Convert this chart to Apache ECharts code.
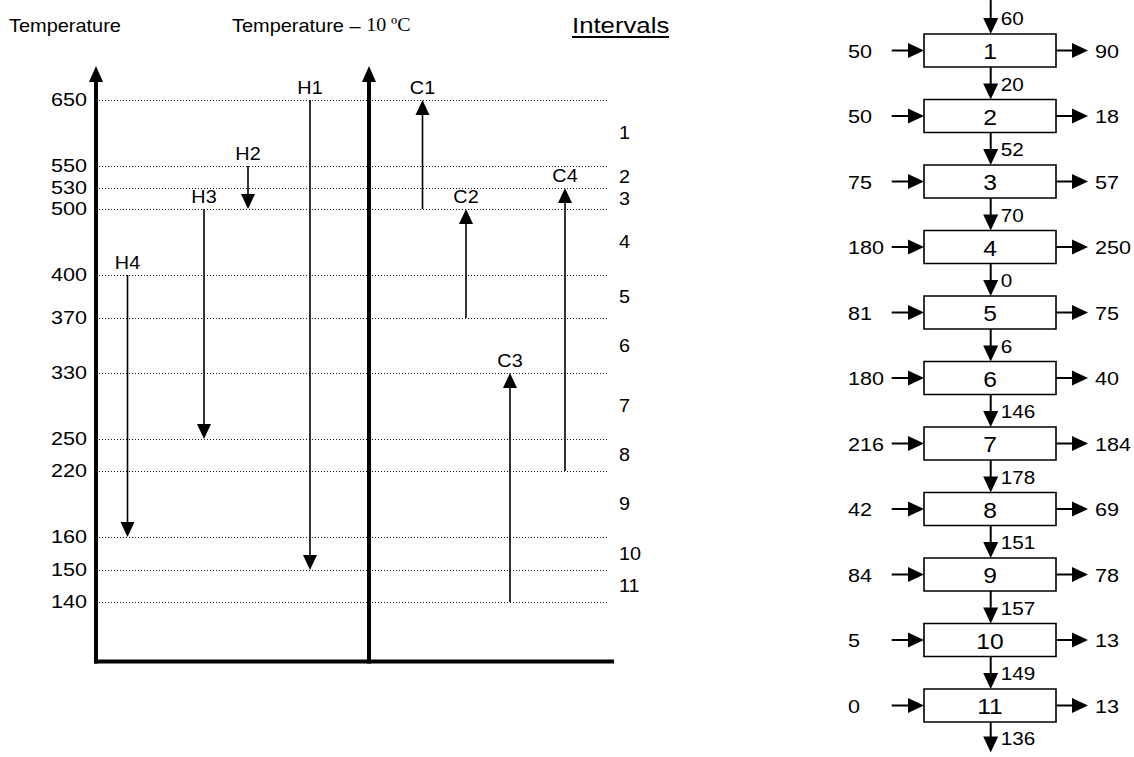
<!DOCTYPE html>
<html><head><meta charset="utf-8">
<script src="https://cdn.jsdelivr.net/npm/echarts@6/dist/echarts.min.js"></script>
<style>html,body{margin:0;padding:0;background:#fff}#c{width:1134px;height:757px}</style>
</head><body><div id="c"></div>
<script>
// ---------------- data ----------------
const levels = [650, 550, 530, 500, 400, 370, 330, 250, 220, 160, 150, 140];
const intervalLabels = ['1','2','3','4','5','6','7','8','9','10','11'];
const hotNames = ['H1','H2','H3','H4'];
const hotSupply = [650, 550, 500, 400];
const hotTarget = [150, 500, 250, 160];
const coldNames = ['C1','C2','C3','C4'];
const coldSupply = [500, 370, 140, 220];   // shifted temperatures (T - 10)
const coldTarget = [650, 500, 330, 530];
const cascadeHeat = [60, 20, 52, 70, 0, 6, 146, 178, 151, 157, 149, 136];
const heatIn = [50, 50, 75, 180, 81, 180, 216, 42, 84, 5, 0];
const heatOut = [90, 18, 57, 250, 75, 40, 184, 69, 78, 13, 13];

// ---------------- schematic layout ----------------
const levelDepth = [0, 66, 88, 109, 175, 218, 273, 339, 371, 437, 470, 502];
const hotColumn = [214, 152, 108, 31.5];
const coldColumn = [326.5, 370, 414, 469];
const midAxisColumn = 273;

const FONT = '"Liberation Sans", Arial, sans-serif';
const depthOf = t => levelDepth[levels.indexOf(t)];

function arrow(x1, y1, x2, y2, lw, hw, hl) {
  const dx = x2 - x1, dy = y2 - y1, L = Math.hypot(dx, dy) || 1, ux = dx / L, uy = dy / L;
  const bx = x2 - ux * hl, by = y2 - uy * hl;
  return [
    {type: 'line', shape: {x1: x1, y1: y1, x2: bx + ux, y2: by + uy}, style: {stroke: '#000', lineWidth: lw}},
    {type: 'polygon', shape: {points: [[x2, y2], [bx - uy * hw / 2, by + ux * hw / 2], [bx + uy * hw / 2, by - ux * hw / 2]]}, style: {fill: '#000'}}
  ];
}
function txt(x, y, s, size, align, valign, sx) {
  return {type: 'text', x: x, y: y, scaleX: sx || 1,
    style: {text: s, fill: '#000', font: size + 'px ' + FONT, align: align || 'left', verticalAlign: valign || 'middle'}};
}

const streams = [];
hotNames.forEach((n, i) => streams.push([hotColumn[i], depthOf(hotSupply[i]), depthOf(hotTarget[i]), n]));
coldNames.forEach((n, i) => streams.push([coldColumn[i], depthOf(coldSupply[i]), depthOf(coldTarget[i]), n]));

const chart = echarts.init(document.getElementById('c'), null, {renderer: 'svg'});
chart.setOption({
  animation: false,
  backgroundColor: '#fff',
  grid: [
    {left: 96, top: 66, width: 518, height: 595.5},
    {left: 820, top: 17.75, width: 314, height: 720.5}
  ],
  xAxis: [
    {type: 'value', gridIndex: 0, min: 0, max: 518, show: false},
    {type: 'value', gridIndex: 1, min: 0, max: 314, show: false}
  ],
  yAxis: [
    {type: 'value', gridIndex: 0, min: -34, max: 561.5, inverse: true, show: false},
    {type: 'category', gridIndex: 1, data: intervalLabels, inverse: true, show: false}
  ],
  graphic: [
    txt(9, 25, 'Temperature', 19, 'left', 'middle', 1.05),
    {type: 'text', x: 232, y: 25, scaleX: 1.05, style: {
      rich: {a: {font: '19px ' + FONT, fill: '#000'}, b: {font: '19px "Liberation Serif", "Times New Roman", serif', fill: '#000'}},
      text: '{a|Temperature – }{b|10 ºC}', verticalAlign: 'middle'}},
    txt(572, 25, 'Intervals', 22, 'left', 'middle', 1.17),
    {type: 'line', shape: {x1: 572, y1: 37, x2: 669, y2: 37}, style: {stroke: '#000', lineWidth: 2}}
  ],
  series: [
    { // temperature levels
      type: 'custom', xAxisIndex: 0, yAxisIndex: 0, silent: true,
      data: levels.map((t, i) => [0, levelDepth[i], t]),
      renderItem: (params, api) => {
        const a = api.coord([3, api.value(1)]), b = api.coord([512, api.value(1)]);
        const l = api.coord([-9, api.value(1)]);
        const y = Math.round(a[1]) + 0.5;
        return {type: 'group', children: [
          {type: 'line', shape: {x1: a[0], y1: y, x2: b[0], y2: y}, style: {stroke: '#111', lineWidth: 1, lineDash: [1, 2]}},
          txt(l[0], l[1], String(api.value(2)), 18, 'right', 'middle', 1.2)
        ]};
      }
    },
    { // interval numbers
      type: 'custom', xAxisIndex: 0, yAxisIndex: 0, silent: true,
      data: intervalLabels.map((s, i) => [523, (levelDepth[i] + levelDepth[i + 1]) / 2, s]),
      renderItem: (params, api) => {
        const p = api.coord([api.value(0), api.value(1)]);
        return txt(p[0], p[1], String(api.value(2)), 18, 'left', 'middle', 1.1);
      }
    },
    { // axes
      type: 'custom', xAxisIndex: 0, yAxisIndex: 0, silent: true,
      data: [[0, 561.5]],
      renderItem: (params, api) => {
        const o = api.coord([0, 561.5]), top = api.coord([0, -34]);
        const m = api.coord([midAxisColumn, 561.5]), mt = api.coord([midAxisColumn, -34]);
        const r = api.coord([518, 561.5]);
        return {type: 'group', children: [
          ...arrow(o[0], o[1] + 2, top[0], top[1], 4, 14, 16),
          ...arrow(m[0], m[1] + 2, mt[0], mt[1], 4, 14, 16),
          {type: 'line', shape: {x1: o[0] - 2, y1: o[1], x2: r[0], y2: r[1]}, style: {stroke: '#000', lineWidth: 4}}
        ]};
      }
    },
    { // streams
      type: 'custom', xAxisIndex: 0, yAxisIndex: 0, silent: true,
      encode: {x: 0, y: [1, 2]},
      data: streams,
      renderItem: (params, api) => {
        const s = api.coord([api.value(0), api.value(1)]), e = api.coord([api.value(0), api.value(2)]);
        const labelAt = s[1] < e[1] ? s : e;
        return {type: 'group', children: [
          ...arrow(s[0], s[1], e[0], e[1], 1.6, 14, 15),
          txt(labelAt[0], labelAt[1] - 3, streams[params.dataIndex][3], 18, 'center', 'bottom', 1.1)
        ]};
      }
    },
    { // interval boxes
      type: 'custom', xAxisIndex: 1, yAxisIndex: 1, silent: true,
      data: intervalLabels.map((s, i) => [170, i, s]),
      renderItem: (params, api) => {
        const l = api.coord([104, api.value(1)]), r = api.coord([236, api.value(1)]);
        return {type: 'group', children: [
          {type: 'rect', shape: {x: l[0], y: l[1] - 16.5, width: r[0] - l[0], height: 33}, style: {fill: '#fff', stroke: '#000', lineWidth: 1.6}},
          txt((l[0] + r[0]) / 2, l[1] + 1, intervalLabels[params.dataIndex], 22, 'center', 'middle', 1.12)
        ]};
      }
    },
    { // heat into intervals
      type: 'custom', xAxisIndex: 1, yAxisIndex: 1, silent: true,
      data: heatIn.map((v, i) => [104, i, v]),
      renderItem: (params, api) => {
        const a = api.coord([71.7, api.value(1)]), b = api.coord([104, api.value(1)]), t = api.coord([28, api.value(1)]);
        return {type: 'group', children: [...arrow(a[0], a[1], b[0], b[1], 2, 15, 16), txt(t[0], t[1] + 1, String(api.value(2)), 18, 'left', 'middle', 1.2)]};
      }
    },
    { // heat out of intervals
      type: 'custom', xAxisIndex: 1, yAxisIndex: 1, silent: true,
      data: heatOut.map((v, i) => [236, i, v]),
      renderItem: (params, api) => {
        const a = api.coord([236, api.value(1)]), b = api.coord([268, api.value(1)]), t = api.coord([275, api.value(1)]);
        return {type: 'group', children: [...arrow(a[0], a[1], b[0], b[1], 2, 15, 16), txt(t[0], t[1] + 1, String(api.value(2)), 18, 'left', 'middle', 1.2)]};
      }
    },
    { // cascaded heat
      type: 'custom', xAxisIndex: 1, yAxisIndex: 1, silent: true,
      data: cascadeHeat.map((v, k) => [170.7, Math.min(k, 10), v]),
      renderItem: (params, api) => {
        const k = params.dataIndex, n = intervalLabels.length;
        const band = api.size([0, 1])[1];
        let y1, y2, x;
        if (k === 0) {
          const c = api.coord([170.7, 0]); x = c[0]; y1 = c[1] - band * 0.77; y2 = c[1] - 16.5;
        } else if (k === n) {
          const c = api.coord([170.7, n - 1]); x = c[0]; y1 = c[1] + 16.5; y2 = c[1] + 47;
        } else {
          const c0 = api.coord([170.7, k - 1]), c1 = api.coord([170.7, k]); x = c0[0]; y1 = c0[1] + 16.5; y2 = c1[1] - 16.5;
        }
        return {type: 'group', children: [...arrow(x, y1, x, y2, 2, 15, 16), txt(x + 10, (y1 + y2) / 2 + 1, String(api.value(2)), 18, 'left', 'middle', 1.15)]};
      }
    }
  ]
});
</script></body></html>
